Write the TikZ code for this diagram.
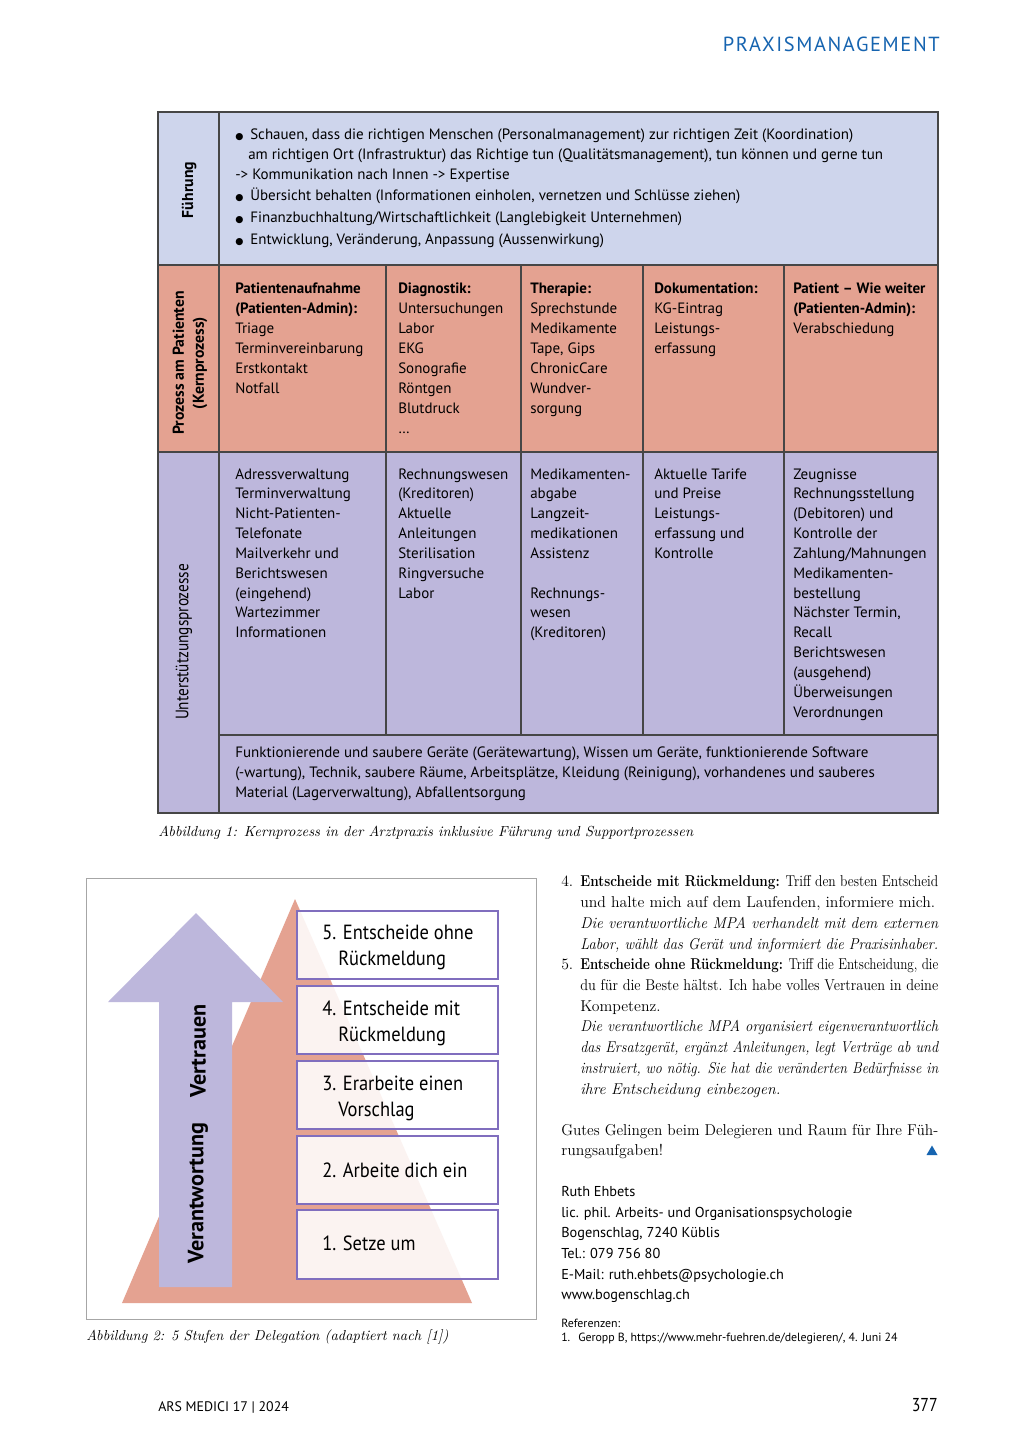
\documentclass[tikz,border=0pt]{standalone}
\usepackage{fontspec}
\usepackage{graphicx}
\newfontfamily\tabfont{PT Sans}
\newfontfamily\condfont[FakeStretch=0.85]{PT Sans}
\newfontfamily\boxfont[FakeStretch=0.9]{PT Sans}
\newfontfamily\hdrfont[LetterSpace=8]{PT Sans}
\newfontfamily\dejavu{DejaVu Sans}
\definecolor{fuehr}{RGB}{206,213,236}
\definecolor{salmon}{RGB}{228,162,145}
\definecolor{lav}{RGB}{189,183,220}
\definecolor{rulec}{RGB}{70,70,70}
\definecolor{hdrblue}{RGB}{22,100,176}
\definecolor{boxline}{RGB}{128,110,190}
\newsavebox\jlbox
\newcommand\jl[2]{\sbox\jlbox{#2}\ifdim\wd\jlbox>#1\relax\resizebox{#1}{\height}{\usebox\jlbox}\else\hbox to #1{#2}\fi}
\newcommand\cell[5]{\foreach \t [count=\i from 0] in {#5}{\node[tl] (#1\i) at (#2,{#3+\i*#4}) {\t};}}
\begin{document}
\begin{tikzpicture}[x=0.75pt,y=-0.75pt,
  tl/.style={anchor=base west, inner sep=0pt, font=\tabfont\fontsize{11.25}{13}\selectfont},
  srf/.style={anchor=base west, inner sep=0pt, font=\fontsize{11.8}{14}\selectfont},
  srfi/.style={srf, font=\itshape\fontsize{11.8}{14}\selectfont},
  sf/.style={anchor=base west, inner sep=0pt, font=\tabfont\fontsize{10.75}{13}\selectfont},
  rf/.style={sf, font=\tabfont\fontsize{8.9}{10}\selectfont},
  bx/.style={draw=boxline, line width=0.8pt, fill=white, fill opacity=0.88},
  bxt/.style={anchor=base west, inner sep=0pt, font=\boxfont\fontsize{15.4}{17}\selectfont},
  bul/.style={anchor=base west, inner sep=0pt, font=\dejavu\fontsize{7}{8}\selectfont},
  gridl/.style={draw=rulec, line width=0.9pt},
  lbl/.style={rotate=90, inner sep=0pt, align=center}]

\useasboundingbox (0,0) rectangle (1024,1448);
\fill[white] (0,0) rectangle (1024,1448);

% header
\node[anchor=base east, inner sep=0pt, text=hdrblue, font=\hdrfont\fontsize{15.3}{17}\selectfont] (hdr) at (940,52) {PRAXISMANAGEMENT};

% ---------- table ----------
\fill[fuehr] (158,112) rectangle (938,265);
\fill[salmon] (158,265) rectangle (938,452);
\fill[lav] (158,452) rectangle (938,813);
\draw[gridl] (158,112) rectangle (938,813);
\draw[gridl] (219,112) -- (219,813);
\draw[gridl] (158,265) -- (938,265);
\draw[gridl] (158,452) -- (938,452);
\draw[gridl] (219,735) -- (938,735);
\foreach \x in {386,521,643,784} \draw[gridl] (\x,265) -- (\x,735);

% row labels
\node[lbl, font=\tabfont\bfseries\fontsize{11.8}{14}\selectfont] (lf) at (189,190) {Führung};
\node[lbl, font=\tabfont\bfseries\fontsize{11.8}{15}\selectfont] (lp) at (190,363) {Prozess am Patienten\\(Kernprozess)};
\node[lbl, font=\condfont\fontsize{13.5}{15}\selectfont] (lu) at (184,642) {Unterstützungsprozesse};

% Fuehrung
\foreach \yy/\nm in {140/a,201/b,223/c,245/d} \node[bul] (bul\nm) at (235,\yy) {●};
\node[tl] (f1) at (250,140) {Schauen, dass die richtigen Menschen (Personalmanagement) zur richtigen Zeit (Koordination)};
\node[tl] (f2) at (248,160) {am richtigen Ort (Infrastruktur) das Richtige tun (Qualitätsmanagement), tun können und gerne tun};
\node[tl] (f3) at (235,180) {-> Kommunikation nach Innen -> Expertise};
\node[tl] (f4) at (250,201) {Übersicht behalten (Informationen einholen, vernetzen und Schlüsse ziehen)};
\node[tl] (f5) at (250,223) {Finanzbuchhaltung/Wirtschaftlichkeit (Langlebigkeit Unternehmen)};
\node[tl] (f6) at (250,245) {Entwicklung, Veränderung, Anpassung (Aussenwirkung)};

% Kernprozess row
\cell{pa}{235}{293}{20}{{\bfseries Patientenaufnahme},{\bfseries (Patienten-Admin):},Triage,Terminvereinbarung,Erstkontakt,Notfall}
\cell{pb}{398}{293}{20}{{\bfseries Diagnostik:},Untersuchungen,Labor,EKG,Sonografie,Röntgen,Blutdruck,…}
\cell{pc}{530}{293}{20}{{\bfseries Therapie:},Sprechstunde,Medikamente,{Tape, Gips},ChronicCare,Wundver-,sorgung}
\cell{pd}{654}{293}{20}{{\bfseries Dokumentation:},KG-Eintrag,Leistungs-,erfassung}
\cell{pe}{793}{293}{20}{{\bfseries Patient – Wie weiter},{\bfseries (Patienten-Admin):},Verabschiedung}

% Unterstuetzung row
\cell{ua}{235}{479}{19.85}{Adressverwaltung,Terminverwaltung,Nicht-Patienten-,Telefonate,Mailverkehr und,Berichtswesen,(eingehend),Wartezimmer,Informationen}
\cell{ub}{398}{479}{19.85}{Rechnungswesen,(Kreditoren),Aktuelle,Anleitungen,Sterilisation,Ringversuche,Labor}
\cell{uc}{530}{479}{19.85}{Medikamenten-,abgabe,Langzeit-,medikationen,Assistenz}
\cell{ucc}{530}{598.1}{19.85}{Rechnungs-,wesen,(Kreditoren)}
\cell{ud}{654}{479}{19.85}{Aktuelle Tarife,und Preise,Leistungs-,erfassung und,Kontrolle}
\cell{ue}{793}{479}{19.85}{Zeugnisse,Rechnungsstellung,(Debitoren) und,Kontrolle der,Zahlung/Mahnungen,Medikamenten-,bestellung,{Nächster Termin,},Recall,Berichtswesen,(ausgehend),Überweisungen,Verordnungen}
\cell{ug}{235}{757}{20}{{Funktionierende und saubere Geräte (Gerätewartung), Wissen um Geräte, funktionierende Software},{(-wartung), Technik, saubere Räume, Arbeitsplätze, Kleidung (Reinigung), vorhandenes und sauberes},{Material (Lagerverwaltung), Abfallentsorgung}}

\node[srf, font=\itshape\fontsize{10.9}{12}\selectfont] (cap1) at (158,836) {Abbildung 1: Kernprozess in der Arztpraxis inklusive Führung und Supportprozessen};

% ---------- figure 2 ----------
\draw[gray!70, line width=0.6pt] (86,878) rectangle (536,1319);
\fill[salmon] (122,1303) -- (472,1303) -- (295,899) -- cycle;
\fill[lav] (159,1287) -- (159,1002) -- (108,1002) -- (196,913) -- (283,1002) -- (232,1002) -- (232,1287) -- cycle;
\node[lbl, font=\tabfont\bfseries\fontsize{16.6}{18}\selectfont] (vw) at (198,1193) {Verantwortung};
\node[lbl, font=\tabfont\bfseries\fontsize{16.6}{18}\selectfont] (vt) at (198,1051) {Vertrauen};

\foreach \nm/\ya/\yb in {b5/911/979, b4/986/1054, b3/1061/1129, b2/1136/1204, b1/1210/1279}
  \draw[bx] (297,\ya) rectangle (498,\yb);
\node[bxt] (t5a) at (322,939) {5. Entscheide ohne};
\node[bxt] (t5b) at (338,965) {Rückmeldung};
\node[bxt] (t4a) at (322,1015) {4. Entscheide mit};
\node[bxt] (t4b) at (338,1041) {Rückmeldung};
\node[bxt] (t3a) at (322,1090) {3. Erarbeite einen};
\node[bxt] (t3b) at (338,1116) {Vorschlag};
\node[bxt] (t2) at (322,1177) {2. Arbeite dich ein};
\node[bxt] (t1) at (322,1250) {1. Setze um};

\node[srf, font=\itshape\fontsize{10.8}{12}\selectfont] (cap2) at (86,1340) {Abbildung 2: 5 Stufen der Delegation (adaptiert nach [1])};

% ---------- right column ----------
\node[srf] (n4) at (561,886) {4.};
\node[srf] (r1) at (580,886) {\jl{268.5pt}{\textbf{Entscheide mit Rückmeldung:} Triff den besten Entscheid}};
\node[srf] (r2) at (580,907) {und halte mich auf dem Laufenden, informiere mich.};
\node[srfi] (r3) at (580,928) {\jl{268.5pt}{Die verantwortliche MPA verhandelt mit dem externen}};
\node[srfi] (r4) at (580,949) {\jl{268.5pt}{Labor, wählt das Gerät und informiert die Praxisinhaber.}};
\node[srf] (n5) at (561,969) {5.};
\node[srf] (r5) at (580,969) {\jl{268.5pt}{\textbf{Entscheide ohne Rückmeldung:} Triff die Entscheidung, die}};
\node[srf] (r6) at (580,990) {\jl{268.5pt}{du für die Beste hältst. Ich habe volles Vertrauen in deine}};
\node[srf] (r7) at (580,1011) {Kompetenz.};
\node[srfi] (r8) at (580,1031) {\jl{268.5pt}{Die verantwortliche MPA organisiert eigenverantwortlich}};
\node[srfi] (r9) at (580,1052) {\jl{268.5pt}{das Ersatzgerät, ergänzt Anleitungen, legt Verträge ab und}};
\node[srfi] (r10) at (580,1073) {\jl{268.5pt}{instruiert, wo nötig. Sie hat die veränderten Bedürfnisse in}};
\node[srfi] (r11) at (580,1094) {ihre Entscheidung einbezogen.};
\node[srf] (g1) at (561,1135) {\jl{282.75pt}{Gutes Gelingen beim Delegieren und Raum für Ihre Füh-}};
\node[srf] (g2) at (561,1155) {rungsaufgaben!};
\fill[hdrblue] (926.5,1155) -- (937.5,1155) -- (932,1145.5) -- cycle;

\node[sf] (a1) at (561,1196) {Ruth Ehbets};
\node[sf] (a2) at (561,1217) {lic. phil. Arbeits- und Organisationspsychologie};
\node[sf] (a3) at (561,1237) {Bogenschlag, 7240 Küblis};
\node[sf] (a4) at (561,1258) {Tel.: 079 756 80};
\node[sf] (a5) at (561,1279) {E-Mail: ruth.ehbets@psychologie.ch};
\node[sf] (a6) at (561,1299) {www.bogenschlag.ch};
\node[rf] (ref0) at (561,1327) {Referenzen:};
\node[rf] (ref1n) at (561,1341) {1.};
\node[rf] (ref1) at (578,1341) {Geropp B, https://www.mehr-fuehren.de/delegieren/, 4. Juni 24};

% footer
\node[anchor=base west, inner sep=0pt, font=\tabfont\fontsize{10.4}{12}\selectfont] (ft) at (158,1411) {ARS MEDICI 17 | 2024};
\node[anchor=base east, inner sep=0pt, font=\condfont\fontsize{14}{16}\selectfont] (pg) at (938,1411) {377};
\end{tikzpicture}
\end{document}
